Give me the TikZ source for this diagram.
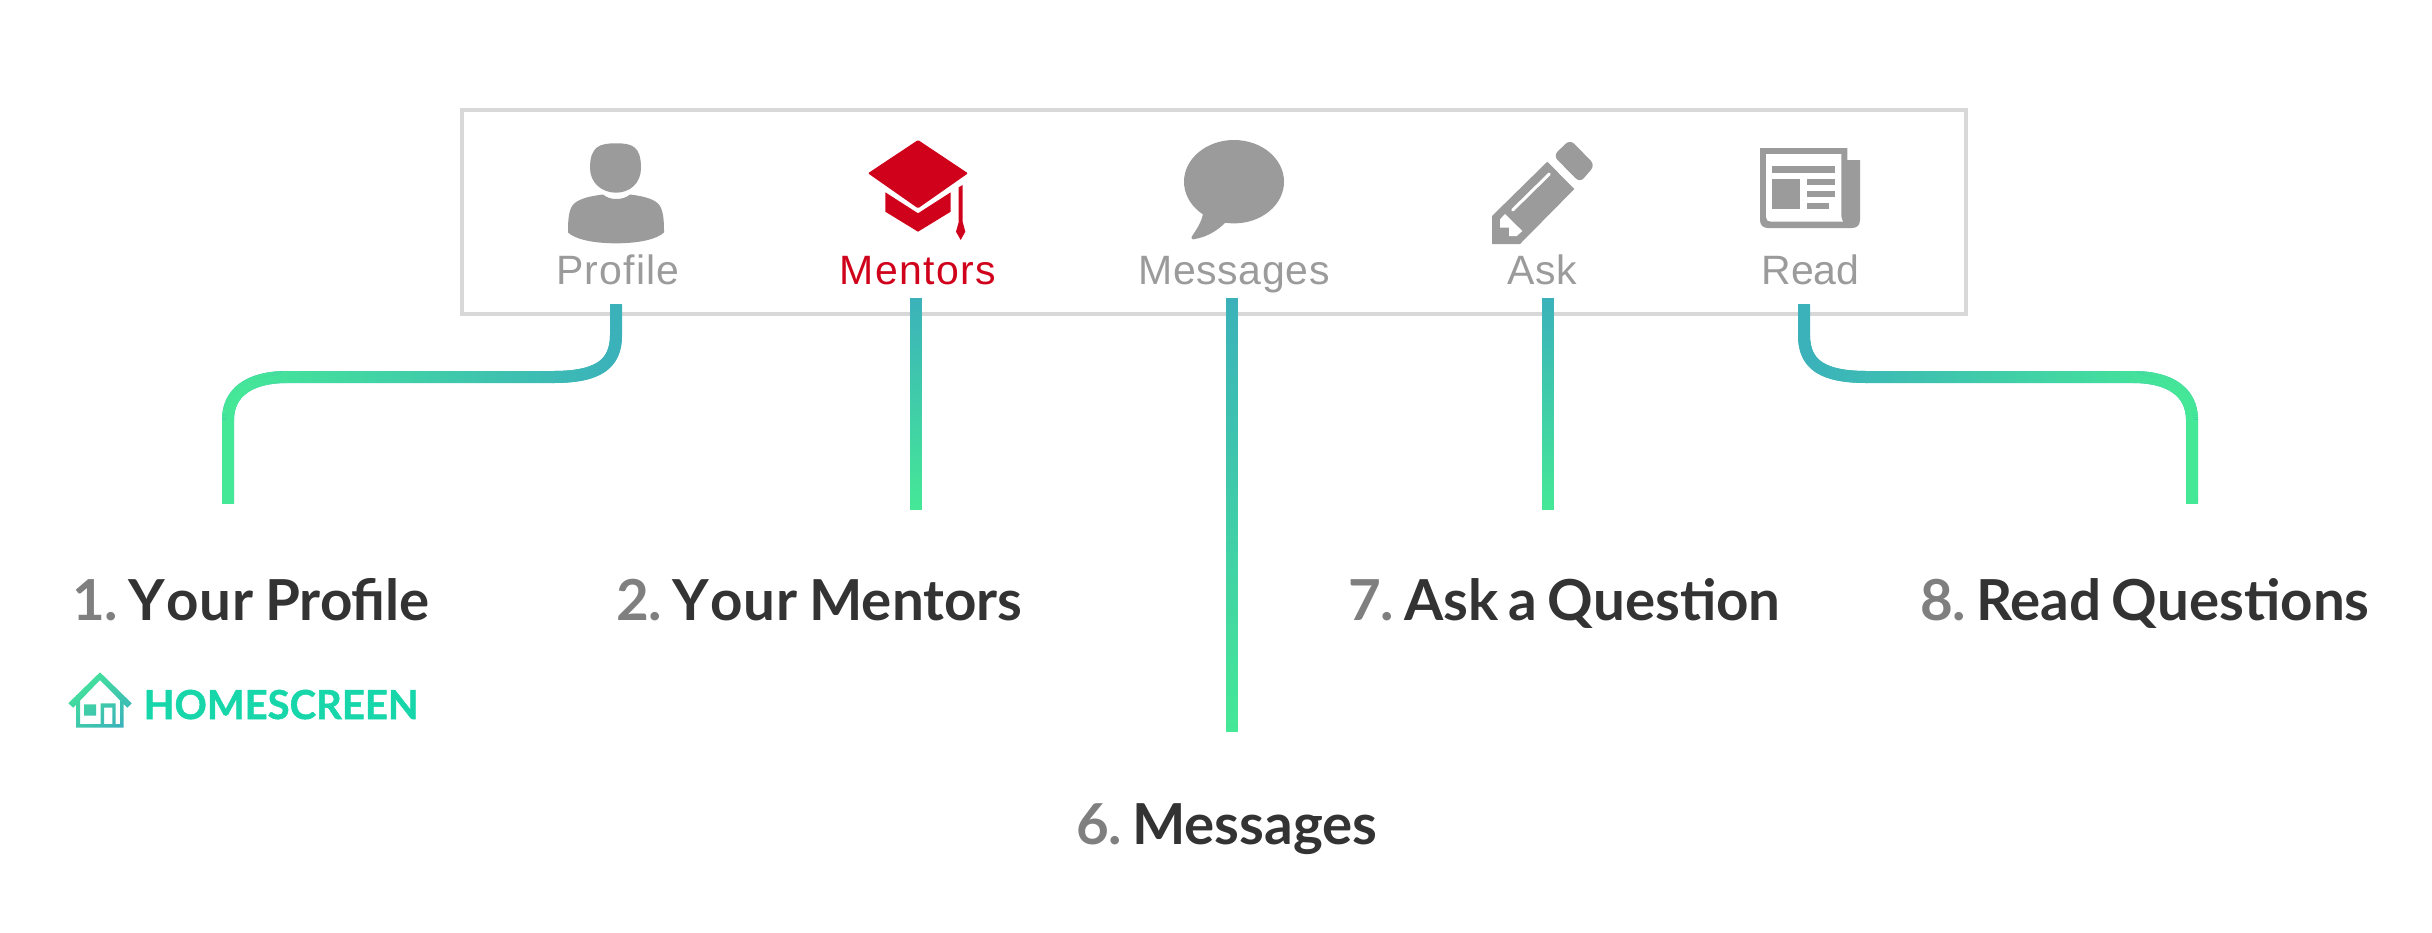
\documentclass[tikz,border=0pt]{standalone}
\usepackage{fontspec}
\usetikzlibrary{decorations.markings}
\setmainfont[WordSpace=0.75]{Lato}
\newfontfamily\homefont[BoldFeatures={FakeBold=1.2}]{Lato}
\newfontfamily\tabfont{Liberation Sans}
\newcommand{\trk}[1]{\addfontfeature{LetterSpace=#1}}
\definecolor{boxgray}{HTML}{D8D8D8}
\definecolor{icongray}{HTML}{9B9B9B}
\definecolor{mentred}{HTML}{D0021B}
\definecolor{titledark}{HTML}{333333}
\definecolor{numgray}{HTML}{7F7F7F}
\definecolor{homegreen}{HTML}{17D6AA}
\definecolor{gStart}{HTML}{3BB2BA}
\definecolor{gEnd}{HTML}{45E897}
\tikzset{
  gradconn/.style 2 args={
    line width=12pt, draw=gStart, line cap=butt,
    postaction={decorate},
    decoration={markings,
      mark=between positions 0 and 1 step 2pt with {%
        \pgfkeysgetvalue{/pgf/decoration/mark info/distance from start}{\gd}%
        \pgfmathsetmacro\gt{100*max(0,min(1,(\gd/\pgfdecoratedpathlength-#1)/(#2-#1)))}%
        \draw[line width=12pt,line cap=butt,color={gEnd!\gt!gStart}] (-1.1pt,0pt)--(1.1pt,0pt);
      }}},
  tablabel/.style={anchor=base,inner sep=0pt,font=\tabfont\fontsize{41}{45}\selectfont,text=icongray},
  title/.style={anchor=base west,inner sep=0pt,font=\fontsize{56.5}{60}\selectfont\bfseries,text=titledark},
  iconfill/.style={fill=icongray,draw=none},
  capfill/.style={fill=mentred,draw=none},
  whitefill/.style={fill=white,draw=none}
}
\newcommand{\numtxt}[1]{\textcolor{numgray}{#1}}
\newcommand{\numgap}{\hspace{-5pt}}
\newcommand{\yourword}{Y\kern1.5pt o\kern0.8pt u\kern0.8pt r\hspace{1.6pt}}
\begin{document}
\begin{tikzpicture}[x=1pt,y=-1pt]
\useasboundingbox (0,0) rectangle (2432,932);
% tab bar
\node[draw=boxgray,line width=4pt,minimum width=1504pt,minimum height=204pt,inner sep=0pt] (tabbar) at (1214,212) {};
% person icon
\path[iconfill] (616,143.3) .. controls (600,143.3) and (590,146) .. (590,168) .. controls (590,183) and (602,192.7) .. (616,192.7) .. controls (630,192.7) and (641,183) .. (641,168) .. controls (641,146) and (632,143.3) .. (616,143.3) -- cycle;
\path[iconfill] (603,194.5) .. controls (607,198) and (612,199) .. (616,199) .. controls (621,199) and (626,198) .. (630,194.5) .. controls (650,197) and (658,201) .. (661,208) .. controls (664,215) and (664,225) .. (664,232.5) .. controls (657,239) and (640,243.3) .. (616,243.3) .. controls (592,243.3) and (575,239) .. (568,232.5) .. controls (568,225) and (568,215) .. (571,208) .. controls (574,201) and (583,197) .. (603,194.5) -- cycle;
% cap icon
\path[capfill,rounded corners=1pt] (918,140) -- (868,173.3) -- (918,208.3) -- (968,173.3) -- cycle;
\path[capfill] (885.3,192.3) -- (918,213.3) -- (950.7,192.3) -- (950.7,211.7) -- (918,231.7) -- (885.3,211.7) -- cycle;
\path[capfill] (962.7,185) -- (958.7,187.3) -- (958.7,222) -- (956,231.7) -- (960.7,240) -- (965.3,231.7) -- (962.7,222) -- cycle;
% speech bubble icon
\path[iconfill] (1234,181.7) ellipse [x radius=50pt,y radius=41.7pt];
\path[iconfill] (1203.3,212) .. controls (1202,222) and (1196,230) .. (1191.7,236.7) .. controls (1191,239) and (1192,239.5) .. (1193.3,239.3) .. controls (1208,237) and (1218,230) .. (1226,222) -- cycle;
% pencil icon
\path[iconfill] (1492,216) -- (1547.3,161.7) -- (1574.3,189) -- (1520,244) -- (1492,244) -- cycle;
\path[iconfill,rounded corners=6pt] (1553.3,155.7) -- (1570,139.5) -- (1595,165) -- (1580,182.7) -- cycle;
\draw[white,line width=3pt,line cap=round] (1549.3,174) -- (1512.7,210);
\path[whitefill] (1505,214) -- (1522.3,231) -- (1516.7,236) -- (1509,236) -- (1509,227.7) -- (1500,227.7) -- (1500,219.3) -- cycle;
% newspaper icon
\path[iconfill] (1760,148) -- (1847.3,148) -- (1847.3,160) -- (1860,160) -- (1860,220) .. controls (1860,225) and (1857,228) .. (1852,228) -- (1768,228) .. controls (1763,228) and (1760,225) .. (1760,220) -- cycle;
\path[whitefill] (1766,154) -- (1841.3,154) -- (1841.3,214) .. controls (1841.3,218) and (1842,220) .. (1843,221.7) -- (1771,221.7) .. controls (1768,221.7) and (1766,220) .. (1766,217) -- cycle;
\path[iconfill] (1772.3,166.3) rectangle (1835,172.7);
\path[iconfill] (1772.3,178.7) rectangle (1800.3,209.3);
\path[iconfill] (1806.7,178.7) rectangle (1835,185);
\path[iconfill] (1806.7,191) rectangle (1835,197);
\path[iconfill] (1806.7,203.3) rectangle (1828.7,209.3);
% tab labels
\node[tablabel] (tabProfile) at (618,284) {\trk{3}Profile};
\node[tablabel,text=mentred] (tabMentors) at (918,284) {\trk{3.5}Mentors};
\node[tablabel] (tabMessages) at (1234,284) {\trk{1.5}Messages};
\node[tablabel] (tabAsk) at (1542,284) {\trk{1}Ask};
\node[tablabel] (tabRead) at (1810.5,284) {Read};
% titles
\node[title] (ttlProfile) at (72,620) {\numtxt{1.} \numgap\yourword{} Profile};
\node[title] (ttlMentors) at (616,620) {\numtxt{2.} \numgap\yourword{} Mentors};
\node[title] (ttlMessages) at (1076,844) {\numtxt{6.} \numgap Messages};
\node[title] (ttlAsk) at (1348,620) {\numtxt{7.} \numgap Ask a Question};
\node[title] (ttlRead) at (1920,620) {\numtxt{8.} \numgap Read Questions};
% connector ends
\coordinate (pTop) at (616,305);
\coordinate (pEnd) at (228,503);
\coordinate (mTop) at (916,299);
\coordinate (mEnd) at (916,509);
\coordinate (sTop) at (1232,299);
\coordinate (sEnd) at (1232,731);
\coordinate (aTop) at (1548,299);
\coordinate (aEnd) at (1548,509);
\coordinate (rTop) at (1804,305);
\coordinate (rEnd) at (2192,503);
% connectors
\draw[gradconn={0.10}{0.80}] (pTop) -- (616,335) .. controls (616,365) and (597,377) .. (553,377) -- (287,377) .. controls (250,377) and (228,392) .. (228,420) -- (pEnd);
\draw[gradconn={0}{1}] (mTop) -- (mEnd);
\draw[gradconn={0}{1}] (sTop) -- (sEnd);
\draw[gradconn={0}{1}] (aTop) -- (aEnd);
\draw[gradconn={0.10}{0.80}] (rTop) -- (1804,335) .. controls (1804,365) and (1823,377) .. (1867,377) -- (2133,377) .. controls (2170,377) and (2192,392) .. (2192,420) -- (rEnd);
% homescreen house
\begin{scope}
\clip (100,672.3) -- (68.3,703.3) -- (73.3,707.7) -- (100,680) -- (127.3,707.7) -- (131.7,703.3) -- cycle
  (76,695) rectangle (80,727.7)
  (76,724) rectangle (123.7,727.7)
  (120,695) rectangle (123.7,727.7)
  (84,704.3) rectangle (96,715.7)
  (100.7,703.3) rectangle (104,727)
  (100.7,703.3) rectangle (115.7,707.7)
  (112.3,703.3) rectangle (115.7,727);
\shade[top color=gEnd,bottom color=gStart,shading angle=40] (64,668) rectangle (136,732);
\end{scope}
\node[anchor=base west,inner sep=0pt,font=\homefont\fontsize{40}{44}\selectfont\bfseries,text=homegreen] (homescreen) at (143.5,719) {HOMESCREEN};
\end{tikzpicture}
\end{document}
